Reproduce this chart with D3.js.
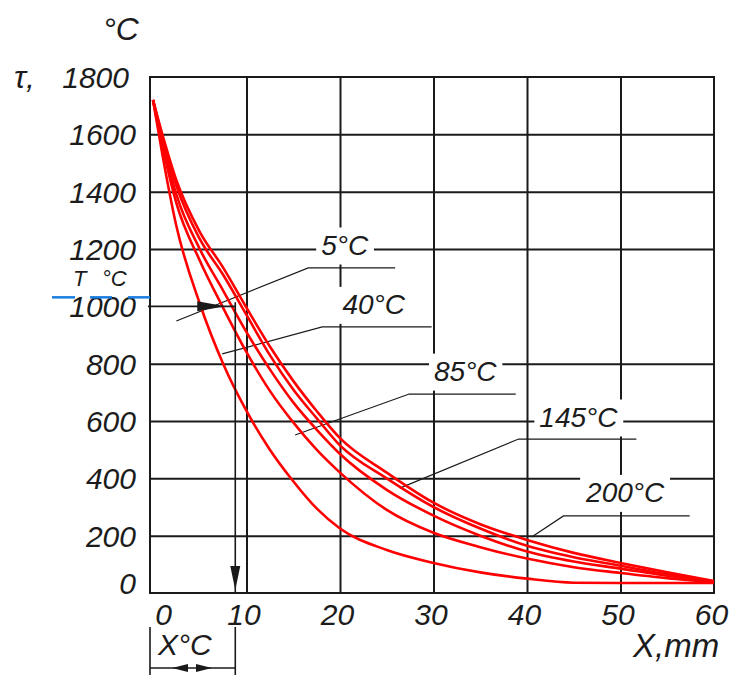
<!DOCTYPE html>
<html>
<head>
<meta charset="utf-8">
<script src="https://cdn.jsdelivr.net/npm/d3@7"></script>
<style>
  body { margin: 0; background: #fff; }
  text { font-family: "Liberation Sans", Arial, sans-serif; font-style: italic; fill: #1c1c1c; }
</style>
</head>
<body>
<div id="chart"></div>
<script>
// distance from surface, mm
var xs = [0, 1, 2.5, 5, 7.5, 10, 12.5, 15, 17.5, 20, 25, 30, 35, 40, 45, 50, 55, 60];
// temperature curves, °C (one per preheat temperature)
var t200 = [1720, 1600, 1440, 1260, 1135, 995, 860, 740, 635, 540, 420, 315, 240, 185, 140, 105, 72, 42];
var t145 = [1720, 1590, 1420, 1235, 1110, 970, 830, 710, 610, 515, 400, 300, 225, 165, 125, 95, 65, 40];
var t85  = [1720, 1575, 1390, 1200, 1055, 910, 780, 665, 570, 485, 360, 270, 200, 145, 110, 85, 60, 40];
var t40  = [1720, 1560, 1360, 1160, 995, 840, 705, 595, 500, 420, 290, 210, 160, 120, 90, 70, 52, 38];
var t5   = [1720, 1530, 1280, 1010, 800, 635, 500, 390, 295, 225, 150, 105, 72, 50, 36, 35, 35, 35];

var seriesNames = ["5°C", "40°C", "85°C", "145°C", "200°C"];
var seriesValues = [t5, t40, t85, t145, t200];

var yTicks = [0, 200, 400, 600, 800, 1000, 1200, 1400, 1600, 1800];
var yGrid = [200, 400, 600, 800, 1200, 1400, 1600];
var xTicks = [0, 10, 20, 30, 40, 50, 60];
var xGrid = [10, 20, 30, 40, 50];

// leader lines for the curve labels: [x, T] points, label anchor
var leaderPts = [
  [[2.5, 949], [16.6, 1134], [25.9, 1134]],
  [[7.4, 834], [18.1, 928], [29.8, 928]],
  [[15.2, 551], [27.4, 694], [38.8, 694]],
  [[26.4, 366], [39.1, 537], [51.7, 537]],
  [[40.5, 195], [43.9, 269], [57.4, 269]]
];
var labelPos = [[20.5, 1215], [23.6, 1008], [33.4, 775], [45.5, 615], [50.5, 352]];

var T0 = 1000, xT = 8.8;

var svgWidth = 731, svgHeight = 675;
var svg = d3.select("#chart").append("svg").attr("width", svgWidth).attr("height", svgHeight);

var x = d3.scaleLinear().domain([0, 60]).range([153, 714]);
var y = d3.scaleLinear().domain([0, 1800]).range([593, 77]);
var left = 150;
var ink = "#1a1a1a";
var plain = function(d) { return String(d); };

// grid
var gx = svg.append("g").attr("transform", "translate(0," + y(0) + ")")
  .call(d3.axisBottom(x).tickValues(xGrid).tickSize(-(y(0) - y(1800))).tickFormat(""));
var gy = svg.append("g").attr("transform", "translate(" + left + ",0)")
  .call(d3.axisLeft(y).tickValues(yGrid).tickSize(-(x(60) - left)).tickFormat(""));
[gx, gy].forEach(function(g) {
  g.select(".domain").remove();
  g.selectAll("line").attr("stroke", ink).attr("stroke-width", 2);
});

// frame
svg.append("rect").attr("x", left).attr("y", y(1800))
  .attr("width", x(60) - left).attr("height", y(0) - y(1800))
  .attr("fill", "none").attr("stroke", ink).attr("stroke-width", 2);

// tick labels
var yl = svg.append("g").attr("transform", "translate(136,0)")
  .call(d3.axisLeft(y).tickValues(yTicks).tickFormat(plain).tickSize(0).tickPadding(0));
yl.select(".domain").remove();
yl.selectAll("text").style("font-size", "30px").attr("fill", "#1c1c1c")
  .attr("dy", function(d) { return d === 0 ? "0em" : "0.35em"; })
  .attr("dx", function(d) { return d === 1800 ? -7 : 0; });

var xl = svg.append("g").attr("transform", "translate(0," + (y(0) + 6) + ")")
  .call(d3.axisBottom(x).tickValues(xTicks).tickFormat(plain).tickSize(0).tickPadding(0));
xl.select(".domain").remove();
xl.selectAll("text").style("font-size", "30px").attr("fill", "#1c1c1c")
  .attr("dy", "0.85em")
  .attr("dx", function(d) { return d === 0 ? 10 : -3; });

// axis titles
svg.append("text").attr("x", 103).attr("y", 40).style("font-size", "32px").text("°C");
svg.append("text").attr("x", 14).attr("y", 88).style("font-size", "32px").text("τ,");
svg.append("text").attr("x", 633).attr("y", 657).style("font-size", "33px").text("X,mm");

// curve labels with white boxes that break the grid
var lineGen = d3.line().x(function(d) { return x(d[0]); }).y(function(d) { return y(d[1]); });
seriesNames.forEach(function(name, i) {
  svg.append("path").attr("d", lineGen(leaderPts[i]))
    .attr("fill", "none").attr("stroke", ink).attr("stroke-width", 1.2);
  var g = svg.append("g");
  var bg = g.append("rect").attr("fill", "#fff");
  var t = g.append("text").attr("x", x(labelPos[i][0])).attr("y", y(labelPos[i][1]))
    .attr("text-anchor", "middle").attr("dy", "0.35em").style("font-size", "28px").text(name);
  var bb = t.node().getBBox();
  bg.attr("x", bb.x - 5).attr("y", bb.y - 2).attr("width", bb.width + 10).attr("height", bb.height + 6);
});

// curves
var curve = d3.line().x(function(d) { return x(d[0]); }).y(function(d) { return y(d[1]); })
  .curve(d3.curveMonotoneX);
seriesValues.forEach(function(vals) {
  svg.append("path").datum(xs.map(function(v, j) { return [v, vals[j]]; }))
    .attr("d", curve).attr("fill", "none").attr("stroke", "#ff0000").attr("stroke-width", 2.6);
});

// T marker
svg.append("text").attr("x", 73).attr("y", 286).style("font-size", "22px").text("T");
svg.append("text").attr("x", 102).attr("y", 286).style("font-size", "22px").text("°C");
[[52, 75], [90, 112], [128, 150]].forEach(function(s) {
  svg.append("line").attr("x1", s[0]).attr("x2", s[1]).attr("y1", y(T0) - 9).attr("y2", y(T0) - 9)
    .attr("stroke", "#1a7de0").attr("stroke-width", 2.5);
});
svg.append("line").attr("x1", left - 2).attr("x2", x(xT)).attr("y1", y(T0)).attr("y2", y(T0))
  .attr("stroke", ink).attr("stroke-width", 1.6);
svg.append("line").attr("x1", x(xT)).attr("x2", x(xT)).attr("y1", y(T0) - 4).attr("y2", y(0))
  .attr("stroke", ink).attr("stroke-width", 1.6);
// right arrow
var ax = x(xT) - 10, ay = y(T0);
svg.append("path").attr("d", "M" + (ax - 28) + "," + (ay - 5) + "L" + ax + "," + ay + "L" + (ax - 28) + "," + (ay + 5) + "Z")
  .attr("fill", ink);
// down arrow
var dx0 = x(xT), dy0 = y(0) - 3;
svg.append("path").attr("d", "M" + (dx0 - 5) + "," + (dy0 - 24) + "L" + dx0 + "," + dy0 + "L" + (dx0 + 5) + "," + (dy0 - 24) + "Z")
  .attr("fill", ink);

// X dimension
svg.append("line").attr("x1", left).attr("x2", left).attr("y1", 627).attr("y2", 675).attr("stroke", ink).attr("stroke-width", 1.6);
svg.append("line").attr("x1", x(xT)).attr("x2", x(xT)).attr("y1", 627).attr("y2", 675).attr("stroke", ink).attr("stroke-width", 1.6);
svg.append("line").attr("x1", left).attr("x2", x(xT)).attr("y1", 668).attr("y2", 668).attr("stroke", ink).attr("stroke-width", 1.6);
svg.append("path").attr("d", "M172,668L188,664L188,672Z").attr("fill", ink);
svg.append("path").attr("d", "M212,668L196,664L196,672Z").attr("fill", ink);
svg.append("text").attr("x", 158).attr("y", 655).style("font-size", "30px").text("X°C");
</script>
</body>
</html>
